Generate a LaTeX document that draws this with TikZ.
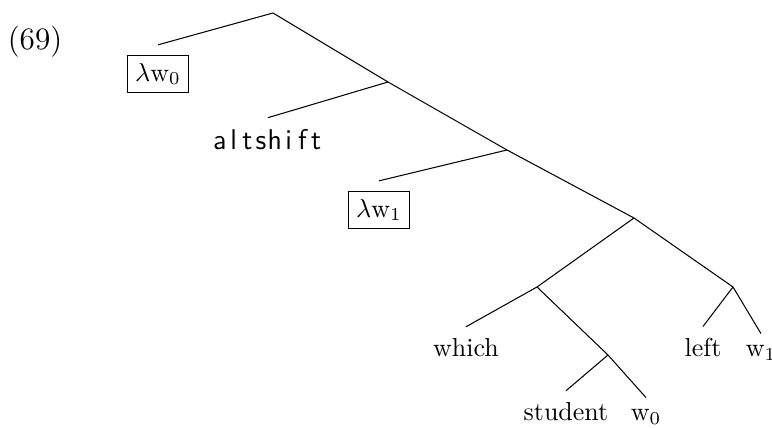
\documentclass[tikz,border=0pt]{standalone}
\usepackage{amsmath,amssymb}
\usepackage{tikz}
\usetikzlibrary{positioning,calc}

% evenly spaced sans letters
\newcommand{\sfmono}[1]{{\sffamily\fontsize{11}{13}\selectfont
    \foreach \ch in {#1}{\makebox[5.3pt]{\ch}}}}

\begin{document}
\begin{tikzpicture}[
    x=0.385pt, y=-0.385pt,
    leaf/.style={inner sep=4.5pt, anchor=base},
    lbox/.style={rectangle, draw, thin, inner sep=3pt, outer sep=4pt},
    edge/.style={thin}
]
    \useasboundingbox (0,0) rectangle (772,428);

    \node[anchor=base, font=\large] (num) at (35,50) {(69)};

    % inner points of the tree
    \coordinate (root) at (273,13);
    \coordinate (n1) at (388,82);
    \coordinate (n2) at (507,150);
    \coordinate (n3) at (634,218);
    \coordinate (n4) at (537,287);
    \coordinate (n5) at (733,287);
    \coordinate (n6) at (608,355);

    % leaves
    \node[lbox] (lw0) at (158,74) {$\lambda\mathrm{w}_0$};
    \node[leaf] (alt) at (268,150) {\sfmono{a,l,t,s,h,i,f,t}};
    \node[lbox] (lw1) at (379,210) {$\lambda\mathrm{w}_1$};
    \node[leaf] (which) at (466,357) {which};
    \node[leaf] (student) at (566,421) {student};
    \node[leaf] (w0) at (646,421) {w$_0$};
    \node[leaf] (left) at (703,357) {left};
    \node[leaf] (w1) at (761,357) {w$_1$};

    \draw[edge] (root) -- (lw0.north);
    \draw[edge] (root) -- (n1) -- (n2) -- (n3);
    \draw[edge] (n1) -- (alt.north);
    \draw[edge] (n2) -- (lw1.north);
    \draw[edge] (n3) -- (n4);
    \draw[edge] (n3) -- (n5);
    \draw[edge] (n4) -- (which.north);
    \draw[edge] (n4) -- (n6);
    \draw[edge] (n6) -- (student.north);
    \draw[edge] (n6) -- (w0.north);
    \draw[edge] (n5) -- (left.north);
    \draw[edge] (n5) -- (w1.north);
\end{tikzpicture}
\end{document}
